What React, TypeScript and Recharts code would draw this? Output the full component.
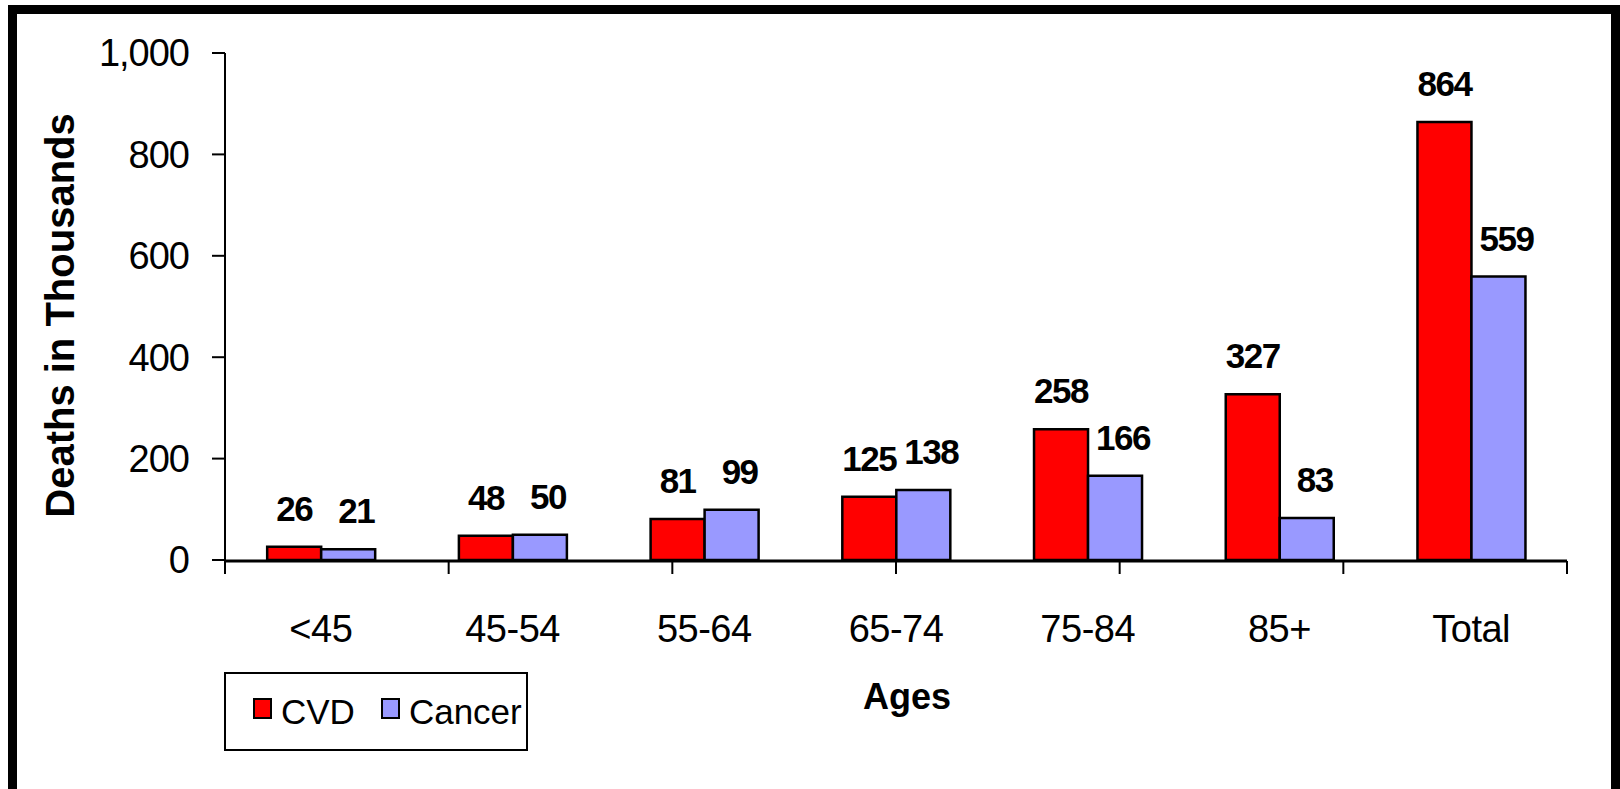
import { BarChart, Bar, XAxis, YAxis, LabelList } from "recharts";

const ages = ["<45", "45-54", "55-64", "65-74", "75-84", "85+", "Total"];
const cvd = [26, 48, 81, 125, 258, 327, 864];
const cancer = [21, 50, 99, 138, 166, 83, 559];
const yTicks = [0, 200, 400, 600, 800, 1000];

const series = [
  { key: "cvd", name: "CVD", color: "#FF0000", labelDx: 0 },
  { key: "cancer", name: "Cancer", color: "#9999FF", labelDx: 8 },
];

const data = ages.map((age, i) => ({ age, cvd: cvd[i], cancer: cancer[i] }));
// tick marks sit between the categories, like the original spreadsheet chart
const edgeTicks = [...ages.map((_, i) => i), ages.length];

const FONT = '"Liberation Sans", Arial, Helvetica, sans-serif';

// eslint-disable-next-line @typescript-eslint/no-explicit-any
function YTitle(props: any) {
  const { viewBox } = props;
  const x = viewBox.x + 49;
  const y = viewBox.y + viewBox.height / 2 + 9;
  return (
    <text
      x={x}
      y={y}
      transform={`rotate(-90 ${x} ${y})`}
      textAnchor="middle"
      fontSize={40}
      fontWeight="bold"
      fill="#000"
      fontFamily={FONT}
    >
      Deaths in Thousands
    </text>
  );
}

// eslint-disable-next-line @typescript-eslint/no-explicit-any
function XTitle(props: any) {
  const { viewBox } = props;
  return (
    <text
      x={viewBox.x + viewBox.width / 2 + 11}
      y={viewBox.y + 149}
      textAnchor="middle"
      fontSize={36}
      fontWeight="bold"
      fill="#000"
      fontFamily={FONT}
    >
      Ages
    </text>
  );
}

function ChartLegend() {
  return (
    <div
      style={{
        position: "absolute",
        left: 224,
        top: 672,
        width: 304,
        height: 79,
        boxSizing: "border-box",
        border: "2px solid #000",
        display: "flex",
        alignItems: "center",
        paddingLeft: 27,
        fontFamily: FONT,
        fontSize: 35,
        color: "#000",
      }}
    >
      {series.map((s) => (
        <div key={s.key} style={{ display: "flex", alignItems: "center", marginRight: 26 }}>
          <span
            style={{
              display: "inline-block",
              width: 15,
              height: 17,
              background: s.color,
              border: "2px solid #000",
              marginRight: 9,
              marginTop: -6,
            }}
          />
          <span style={{ lineHeight: "40px" }}>{s.name}</span>
        </div>
      ))}
    </div>
  );
}

export default function App() {
  return (
    <div style={{ position: "absolute", left: 0, top: 0, width: 1620, height: 789, background: "#fff" }}>
      <div
        style={{
          position: "absolute",
          left: 8,
          top: 5,
          width: 1612,
          height: 784,
          boxSizing: "border-box",
          border: "9px solid #000",
          borderBottom: "none",
        }}
      />
      <div style={{ position: "absolute", left: 0, top: 0 }}>
        <BarChart
          width={1620}
          height={789}
          data={data}
          margin={{ top: 53, right: 53, left: 25, bottom: 227 }}
          barCategoryGap="22%"
          barGap={0}
          style={{ fontFamily: FONT }}
        >
          <YAxis
            width={200}
            domain={[0, 1000]}
            ticks={yTicks}
            interval={0}
            tickFormatter={(v: number) => v.toLocaleString("en-US")}
            tickSize={13}
            tickMargin={23}
            axisLine={{ stroke: "#000", strokeWidth: 2 }}
            tickLine={{ stroke: "#000", strokeWidth: 2 }}
            tick={{ fill: "#000", fontSize: 38, letterSpacing: -1 }}
            label={{ content: YTitle }}
          />
          <XAxis
            xAxisId="cat"
            dataKey="age"
            height={1}
            interval={0}
            axisLine={false}
            tickLine={false}
            tickSize={0}
            tickMargin={55}
            tick={{ fill: "#000", fontSize: 38, letterSpacing: -0.5 }}
            label={{ content: XTitle }}
          />
          <XAxis
            xAxisId="edge"
            type="number"
            domain={[0, ages.length]}
            ticks={edgeTicks}
            allowDataOverflow
            interval={0}
            height={1}
            tickSize={13}
            tickFormatter={() => ""}
            axisLine={{ stroke: "#000", strokeWidth: 3 }}
            tickLine={{ stroke: "#000", strokeWidth: 2 }}
          />
          {series.map((s) => (
            <Bar
              key={s.key}
              xAxisId="cat"
              dataKey={s.key}
              name={s.name}
              fill={s.color}
              stroke="#000"
              strokeWidth={2.5}
              isAnimationActive={false}
            >
              <LabelList
                dataKey={s.key}
                position="top"
                offset={26}
                dx={s.labelDx}
                style={{
                  fontSize: 35,
                  fontWeight: "bold",
                  fill: "#000",
                  fontFamily: FONT,
                  letterSpacing: -1.5,
                }}
              />
            </Bar>
          ))}
        </BarChart>
      </div>
      <ChartLegend />
    </div>
  );
}
